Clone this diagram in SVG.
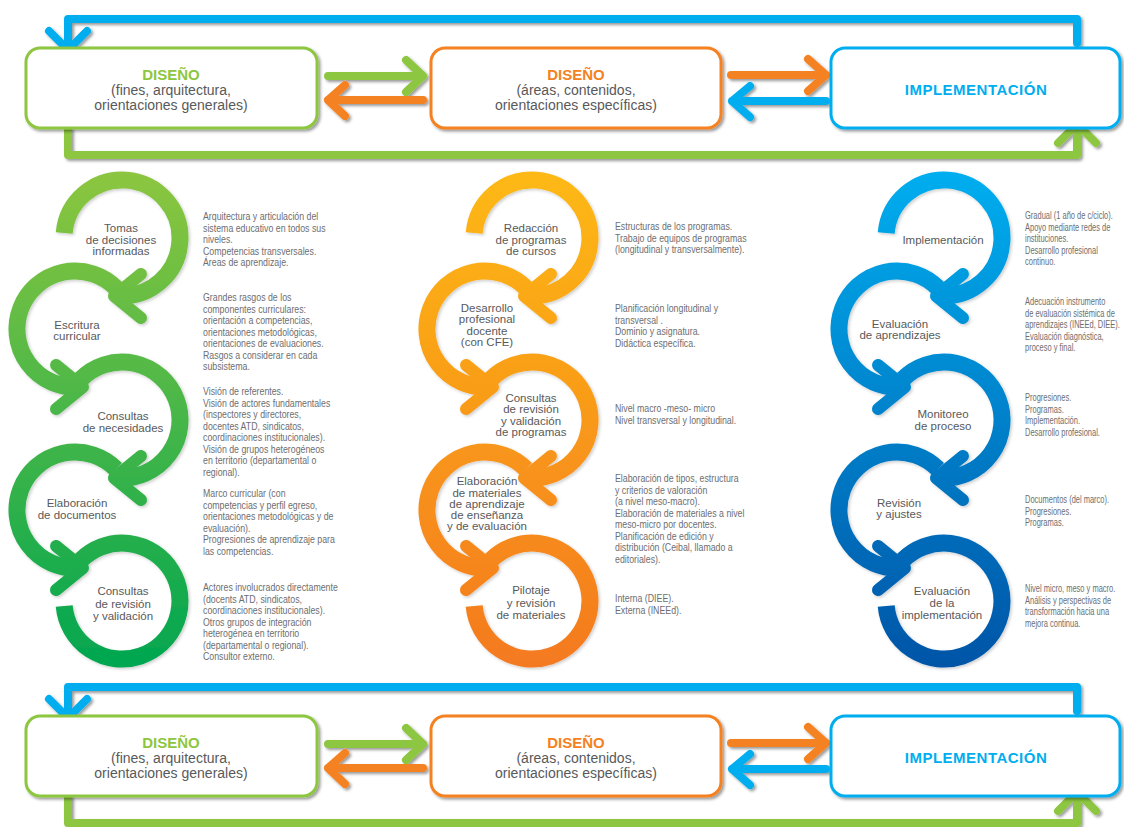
<svg xmlns="http://www.w3.org/2000/svg" width="1124" height="827" viewBox="0 0 1124 827">
<defs>
<style>
.box{fill:#fff;stroke-width:3}
.ln{fill:none;stroke-width:8;stroke-linecap:round;stroke-linejoin:round}
.ring{fill:none;stroke-width:17}
.chev{fill:none;stroke-width:12;stroke-linecap:round;stroke-linejoin:round}
.lbl{font-family:"Liberation Sans",Arial,sans-serif;font-size:11.5px;fill:#58595b;text-anchor:middle}
.ttl{font-family:"Liberation Sans",Arial,sans-serif;font-size:15px;font-weight:bold;text-anchor:middle}
.sub{font-family:"Liberation Sans",Arial,sans-serif;font-size:14px;fill:#58595b;text-anchor:middle}
.dsc{font-family:"Liberation Sans",Arial,sans-serif;font-size:10px;fill:#6d6e71}
</style>
<filter id="sh" x="-10%" y="-10%" width="130%" height="140%"><feDropShadow dx="2" dy="2" stdDeviation="1.5" flood-color="#000" flood-opacity="0.4"/></filter>
<filter id="sh2" x="-10%" y="-10%" width="130%" height="130%"><feDropShadow dx="1.5" dy="1.5" stdDeviation="1.5" flood-color="#000" flood-opacity="0.2"/></filter>
<linearGradient id="gL" gradientUnits="userSpaceOnUse" x1="0" y1="170" x2="0" y2="670"><stop offset="0" stop-color="#8dc63f"/><stop offset="1" stop-color="#00a651"/></linearGradient>
<linearGradient id="gM" gradientUnits="userSpaceOnUse" x1="0" y1="170" x2="0" y2="670"><stop offset="0" stop-color="#fdb913"/><stop offset="1" stop-color="#f47920"/></linearGradient>
<linearGradient id="gR" gradientUnits="userSpaceOnUse" x1="0" y1="170" x2="0" y2="670"><stop offset="0" stop-color="#00aeef"/><stop offset="1" stop-color="#0054a6"/></linearGradient>
</defs>
<rect width="1124" height="827" fill="#fff"/>

<!-- TOP ROW -->
<g id="connectors-top" filter="url(#sh)">
<path class="ln" stroke="#00aeef" d="M1077,43 L1077,19 L68,19 L68,49"/>
<path class="ln" stroke="#00aeef" d="M49,31 L68,50 L87,31"/>
<path class="ln" stroke="#8dc63f" d="M68,130 L68,155 L1077,155 L1077,127"/>
<path class="ln" stroke="#8dc63f" d="M1058,143 L1077,124 L1096,143"/>
<path class="ln" stroke="#8dc63f" d="M328,76 L423,76 M406,60 L423,76 L406,92"/>
<path class="ln" stroke="#f58220" d="M423,100 L328,100 M345,85 L328,100 L345,116"/>
<path class="ln" stroke="#f58220" d="M731,75 L826,75 M808,59 L826,75 L808,91"/>
<path class="ln" stroke="#00aeef" d="M826,101 L732,101 M750,86 L732,101 L750,117"/>
</g>
<g id="box-diseno-1">
<rect class="box" x="26" y="48" width="291" height="80" rx="14" stroke="#8dc63f" filter="url(#sh)"/>
<text class="ttl" x="171" y="80" fill="#8dc63f">DISEÑO</text>
<text class="sub" x="171" y="95">(fines, arquitectura,</text>
<text class="sub" x="171" y="110">orientaciones generales)</text>
</g>
<g id="box-diseno-2">
<rect class="box" x="431" y="48" width="290" height="80" rx="14" stroke="#f58220" filter="url(#sh)"/>
<text class="ttl" x="576" y="80" fill="#f58220">DISEÑO</text>
<text class="sub" x="576" y="95">(áreas, contenidos,</text>
<text class="sub" x="576" y="110">orientaciones específicas)</text>
</g>
<g id="box-implementacion">
<rect class="box" x="831" y="48" width="289" height="80" rx="14" stroke="#00aeef" filter="url(#sh)"/>
<text class="ttl" x="976" y="95" fill="#00aeef" letter-spacing="0.5">IMPLEMENTACIÓN</text>
</g>

<!-- LEFT COLUMN -->
<g id="col-left" filter="url(#sh2)">
<g id="l5"><path class="ring" stroke="url(#gL)" d="M81,560 A58,58 0 1 1 64.2,606.1"/></g>
<g id="l4"><path class="ring" stroke="url(#gL)" d="M116,469 A58,58 0 1 0 78,567.9"/><path class="chev" stroke="url(#gL)" d="M56,546 L83,568 L56,590"/></g>
<g id="l3"><path class="ring" stroke="url(#gL)" d="M81,379 A58,58 0 1 1 119,477.9"/><path class="chev" stroke="url(#gL)" d="M141,456 L114,478 L141,500"/></g>
<g id="l2"><path class="ring" stroke="url(#gL)" d="M116,288 A58,58 0 1 0 78,386.9"/><path class="chev" stroke="url(#gL)" d="M56,365 L83,387 L56,409"/></g>
<g id="l1"><path class="ring" stroke="url(#gL)" d="M64.2,232.9 A58,58 0 1 1 119,295.9"/><path class="chev" stroke="url(#gL)" d="M141,274 L114,296 L141,318"/></g>
</g>
<g id="labels-left">
<text class="lbl" x="121" y="232">Tomas</text><text class="lbl" x="121" y="244">de decisiones</text><text class="lbl" x="121" y="255">informadas</text>
<text class="lbl" x="77" y="329">Escritura</text><text class="lbl" x="77" y="340">curricular</text>
<text class="lbl" x="123" y="420">Consultas</text><text class="lbl" x="123" y="432">de necesidades</text>
<text class="lbl" x="77" y="507">Elaboración</text><text class="lbl" x="77" y="519">de documentos</text>
<text class="lbl" x="123" y="595">Consultas</text><text class="lbl" x="123" y="608">de revisión</text><text class="lbl" x="123" y="620">y validación</text>
</g>
<g id="desc-left" transform="translate(203,0) scale(0.88,1)">
<text class="dsc"><tspan x="0" y="220.5">Arquitectura y articulación del</tspan><tspan x="0" y="232">sistema educativo en todos sus</tspan><tspan x="0" y="243.5">niveles.</tspan><tspan x="0" y="255">Competencias transversales.</tspan><tspan x="0" y="266.5">Áreas de aprendizaje.</tspan></text>
<text class="dsc"><tspan x="0" y="301.5">Grandes rasgos de los</tspan><tspan x="0" y="313">componentes curriculares:</tspan><tspan x="0" y="324.5">orientación a competencias,</tspan><tspan x="0" y="336">orientaciones metodológicas,</tspan><tspan x="0" y="347.5">orientaciones de evaluaciones.</tspan><tspan x="0" y="359">Rasgos a considerar en cada</tspan><tspan x="0" y="370.5">subsistema.</tspan></text>
<text class="dsc"><tspan x="0" y="395.5">Visión de referentes.</tspan><tspan x="0" y="407">Visión de actores fundamentales</tspan><tspan x="0" y="418.5">(inspectores y directores,</tspan><tspan x="0" y="430">docentes ATD, sindicatos,</tspan><tspan x="0" y="441.5">coordinaciones institucionales).</tspan><tspan x="0" y="453">Visión de grupos heterogéneos</tspan><tspan x="0" y="464.5">en territorio (departamental o</tspan><tspan x="0" y="476">regional).</tspan></text>
<text class="dsc"><tspan x="0" y="497.5">Marco curricular (con</tspan><tspan x="0" y="509">competencias y perfil egreso,</tspan><tspan x="0" y="520.5">orientaciones metodológicas y de</tspan><tspan x="0" y="532">evaluación).</tspan><tspan x="0" y="543.5">Progresiones de aprendizaje para</tspan><tspan x="0" y="555">las competencias.</tspan></text>
<text class="dsc"><tspan x="0" y="591.5">Actores involucrados directamente</tspan><tspan x="0" y="603">(docents ATD, sindicatos,</tspan><tspan x="0" y="614.5">coordinaciones institucionales).</tspan><tspan x="0" y="626">Otros grupos de integración</tspan><tspan x="0" y="637.5">heterogénea en territorio</tspan><tspan x="0" y="649">(departamental o regional).</tspan><tspan x="0" y="660.5">Consultor externo.</tspan></text>
</g>

<!-- MIDDLE COLUMN -->
<g id="col-mid" filter="url(#sh2)">
<g id="m5"><path class="ring" stroke="url(#gM)" d="M491,560 A58,58 0 1 1 474.2,606.1"/></g>
<g id="m4"><path class="ring" stroke="url(#gM)" d="M526,469 A58,58 0 1 0 488,567.9"/><path class="chev" stroke="url(#gM)" d="M466,546 L493,568 L466,590"/></g>
<g id="m3"><path class="ring" stroke="url(#gM)" d="M491,379 A58,58 0 1 1 529,477.9"/><path class="chev" stroke="url(#gM)" d="M551,456 L524,478 L551,500"/></g>
<g id="m2"><path class="ring" stroke="url(#gM)" d="M526,288 A58,58 0 1 0 488,386.9"/><path class="chev" stroke="url(#gM)" d="M466,365 L493,387 L466,409"/></g>
<g id="m1"><path class="ring" stroke="url(#gM)" d="M474.2,232.9 A58,58 0 1 1 529,295.9"/><path class="chev" stroke="url(#gM)" d="M551,274 L524,296 L551,318"/></g>
</g>
<g id="labels-mid">
<text class="lbl" x="531" y="232">Redacción</text><text class="lbl" x="531" y="244">de programas</text><text class="lbl" x="531" y="255">de cursos</text>
<text class="lbl" x="487" y="312">Desarrollo</text><text class="lbl" x="487" y="323">profesional</text><text class="lbl" x="487" y="335">docente</text><text class="lbl" x="487" y="346">(con CFE)</text>
<text class="lbl" x="531" y="402">Consultas</text><text class="lbl" x="531" y="413">de revisión</text><text class="lbl" x="531" y="425">y validación</text><text class="lbl" x="531" y="436">de programas</text>
<text class="lbl" x="487" y="485">Elaboración</text><text class="lbl" x="487" y="497">de materiales</text><text class="lbl" x="487" y="508">de aprendizaje</text><text class="lbl" x="487" y="519">de enseñanza</text><text class="lbl" x="487" y="530">y de evaluación</text>
<text class="lbl" x="531" y="594">Pilotaje</text><text class="lbl" x="531" y="607">y revisión</text><text class="lbl" x="531" y="619">de materiales</text>
</g>
<g id="desc-mid" transform="translate(615,0) scale(0.88,1)">
<text class="dsc"><tspan x="0" y="230.5">Estructuras de los programas.</tspan><tspan x="0" y="242">Trabajo de equipos de programas</tspan><tspan x="0" y="253.5">(longitudinal y transversalmente).</tspan></text>
<text class="dsc"><tspan x="0" y="312.5">Planificación longitudinal y</tspan><tspan x="0" y="324">transversal .</tspan><tspan x="0" y="335.5">Dominio y asignatura.</tspan><tspan x="0" y="347">Didáctica específica.</tspan></text>
<text class="dsc"><tspan x="0" y="412.5">Nivel macro -meso- micro</tspan><tspan x="0" y="424">Nivel transversal y longitudinal.</tspan></text>
<text class="dsc"><tspan x="0" y="482.5">Elaboración de tipos, estructura</tspan><tspan x="0" y="494">y criterios de valoración</tspan><tspan x="0" y="505.5">(a nivel meso-macro).</tspan><tspan x="0" y="517">Elaboración de materiales a nivel</tspan><tspan x="0" y="528.5">meso-micro por docentes.</tspan><tspan x="0" y="540">Planificación de edición y</tspan><tspan x="0" y="551.5">distribución (Ceibal, llamado a</tspan><tspan x="0" y="563">editoriales).</tspan></text>
<text class="dsc"><tspan x="0" y="602.5">Interna (DIEE).</tspan><tspan x="0" y="614">Externa (INEEd).</tspan></text>
</g>

<!-- RIGHT COLUMN -->
<g id="col-right" filter="url(#sh2)">
<g id="r5"><path class="ring" stroke="url(#gR)" d="M903,560 A58,58 0 1 1 886.2,606.1"/></g>
<g id="r4"><path class="ring" stroke="url(#gR)" d="M938,469 A58,58 0 1 0 900,567.9"/><path class="chev" stroke="url(#gR)" d="M878,546 L905,568 L878,590"/></g>
<g id="r3"><path class="ring" stroke="url(#gR)" d="M903,379 A58,58 0 1 1 941,477.9"/><path class="chev" stroke="url(#gR)" d="M963,456 L936,478 L963,500"/></g>
<g id="r2"><path class="ring" stroke="url(#gR)" d="M938,288 A58,58 0 1 0 900,386.9"/><path class="chev" stroke="url(#gR)" d="M878,365 L905,387 L878,409"/></g>
<g id="r1"><path class="ring" stroke="url(#gR)" d="M886.2,232.9 A58,58 0 1 1 941,295.9"/><path class="chev" stroke="url(#gR)" d="M963,274 L936,296 L963,318"/></g>
</g>
<g id="labels-right">
<text class="lbl" x="943" y="244">Implementación</text>
<text class="lbl" x="900" y="328">Evaluación</text><text class="lbl" x="900" y="339">de aprendizajes</text>
<text class="lbl" x="943" y="418">Monitoreo</text><text class="lbl" x="943" y="430">de proceso</text>
<text class="lbl" x="899" y="507">Revisión</text><text class="lbl" x="899" y="518">y ajustes</text>
<text class="lbl" x="942" y="595">Evaluación</text><text class="lbl" x="942" y="607">de la</text><text class="lbl" x="942" y="619">implementación</text>
</g>
<g id="desc-right" transform="translate(1025,0) scale(0.75,1)">
<text class="dsc"><tspan x="0" y="219.5">Gradual (1 año de c/ciclo).</tspan><tspan x="0" y="231">Apoyo mediante redes de</tspan><tspan x="0" y="242.5">instituciones.</tspan><tspan x="0" y="254">Desarrollo profesional</tspan><tspan x="0" y="265.5">continuo.</tspan></text>
<text class="dsc"><tspan x="0" y="305.5">Adecuación instrumento</tspan><tspan x="0" y="317">de evaluación sistémica de</tspan><tspan x="0" y="328.5">aprendizajes (INEEd, DIEE).</tspan><tspan x="0" y="340">Evaluación diagnóstica,</tspan><tspan x="0" y="351.5">proceso y final.</tspan></text>
<text class="dsc"><tspan x="0" y="401.5">Progresiones.</tspan><tspan x="0" y="413">Programas.</tspan><tspan x="0" y="424.5">Implementación.</tspan><tspan x="0" y="436">Desarrollo profesional.</tspan></text>
<text class="dsc"><tspan x="0" y="503.5">Documentos (del marco).</tspan><tspan x="0" y="515">Progresiones.</tspan><tspan x="0" y="526.5">Programas.</tspan></text>
<text class="dsc"><tspan x="0" y="592.5">Nivel micro, meso y macro.</tspan><tspan x="0" y="604">Análisis y perspectivas de</tspan><tspan x="0" y="615.5">transformación hacia una</tspan><tspan x="0" y="627">mejora continua.</tspan></text>
</g>

<!-- BOTTOM ROW -->
<g transform="translate(0,668)">
<g id="connectors-bottom" filter="url(#sh)">
<path class="ln" stroke="#00aeef" d="M1077,43 L1077,19 L68,19 L68,49"/>
<path class="ln" stroke="#00aeef" d="M49,31 L68,50 L87,31"/>
<path class="ln" stroke="#8dc63f" d="M68,130 L68,155 L1077,155 L1077,127"/>
<path class="ln" stroke="#8dc63f" d="M1058,143 L1077,124 L1096,143"/>
<path class="ln" stroke="#8dc63f" d="M328,76 L423,76 M406,60 L423,76 L406,92"/>
<path class="ln" stroke="#f58220" d="M423,100 L328,100 M345,85 L328,100 L345,116"/>
<path class="ln" stroke="#f58220" d="M731,75 L826,75 M808,59 L826,75 L808,91"/>
<path class="ln" stroke="#00aeef" d="M826,101 L732,101 M750,86 L732,101 L750,117"/>
</g>
<g id="box-diseno-1b">
<rect class="box" x="26" y="48" width="291" height="80" rx="14" stroke="#8dc63f" filter="url(#sh)"/>
<text class="ttl" x="171" y="80" fill="#8dc63f">DISEÑO</text>
<text class="sub" x="171" y="95">(fines, arquitectura,</text>
<text class="sub" x="171" y="110">orientaciones generales)</text>
</g>
<g id="box-diseno-2b">
<rect class="box" x="431" y="48" width="290" height="80" rx="14" stroke="#f58220" filter="url(#sh)"/>
<text class="ttl" x="576" y="80" fill="#f58220">DISEÑO</text>
<text class="sub" x="576" y="95">(áreas, contenidos,</text>
<text class="sub" x="576" y="110">orientaciones específicas)</text>
</g>
<g id="box-implementacion-b">
<rect class="box" x="831" y="48" width="289" height="80" rx="14" stroke="#00aeef" filter="url(#sh)"/>
<text class="ttl" x="976" y="95" fill="#00aeef" letter-spacing="0.5">IMPLEMENTACIÓN</text>
</g>
</g>
</svg>
